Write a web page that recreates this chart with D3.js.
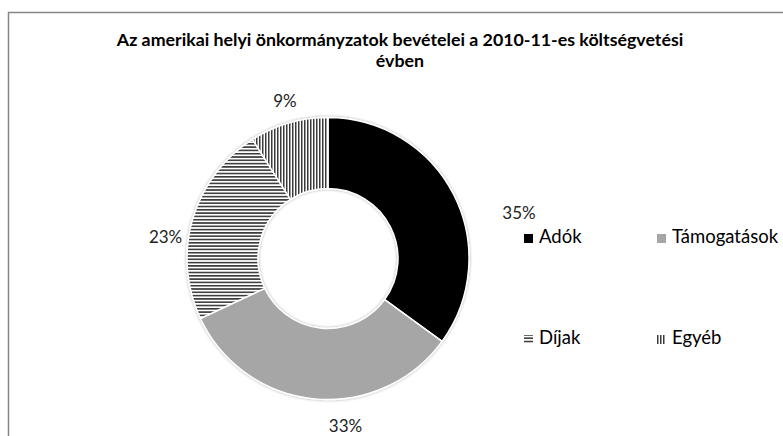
<!DOCTYPE html>
<html>
<head>
<meta charset="utf-8">
<script src="https://cdn.jsdelivr.net/npm/d3@7"></script>
<style>
  body { margin: 0; background: #fff; }
  svg { display: block; }
</style>
</head>
<body>
<script>
const w = 783;
const h = 436;

const titleLines = ["Az amerikai helyi önkormányzatok  bevételei a 2010-11-es költségvetési", "évben"];
const categories = ["Adók", "Támogatások", "Díjak", "Egyéb"];
const values = [35, 33, 23, 9];
const fills = ["#000", "#a6a6a6", "url(#hatchH)", "url(#hatchV)"];

const cx = 328, cy = 258.5;
const outerR = 141, innerR = 70;
const font = "Lato, 'Open Sans', sans-serif";

const svg = d3.select("body").append("svg").attr("width", w).attr("height", h);
const defs = svg.append("defs");

// stripe fills for Díjak and Egyéb
const hH = defs.append("pattern").attr("id", "hatchH")
  .attr("patternUnits", "userSpaceOnUse").attr("width", 6).attr("height", 3.3);
hH.append("rect").attr("width", 6).attr("height", 3.3).attr("fill", "#fff");
hH.append("rect").attr("width", 6).attr("height", 1.6).attr("fill", "#3a3a3a");

const hV = defs.append("pattern").attr("id", "hatchV")
  .attr("patternUnits", "userSpaceOnUse").attr("width", 3).attr("height", 6);
hV.append("rect").attr("width", 3).attr("height", 6).attr("fill", "#fff");
hV.append("rect").attr("width", 1.5).attr("height", 6).attr("fill", "#3a3a3a");

const shadow = defs.append("filter").attr("id", "shadow")
  .attr("x", "-10%").attr("y", "-10%").attr("width", "120%").attr("height", "120%");
shadow.append("feDropShadow").attr("dx", 0).attr("dy", 0).attr("stdDeviation", 1.5)
  .attr("flood-color", "#000").attr("flood-opacity", 0.35);

// chart frame
svg.append("rect")
  .attr("x", 8.5).attr("y", 12.5)
  .attr("width", 790).attr("height", 440)
  .attr("fill", "none").attr("stroke", "#868686").attr("stroke-width", 1.5);

// title
svg.append("g").selectAll("text").data(titleLines).enter().append("text")
  .attr("x", 400)
  .attr("y", (d, i) => 46 + i * 21)
  .attr("text-anchor", "middle")
  .attr("font-family", font)
  .attr("font-weight", "bold")
  .attr("font-size", 17.8)
  .attr("fill", "#000")
  .text(d => d);

const pie = d3.pie().sort(null).value(d => d);
const arcs = pie(values);
const arc = d3.arc().innerRadius(innerR).outerRadius(outerR);
const labelArc = d3.arc().innerRadius(165).outerRadius(165);

const g = svg.append("g").attr("transform", `translate(${cx},${cy})`);
g.append("g").attr("filter", "url(#shadow)")
  .selectAll("path").data(arcs).enter().append("path")
  .attr("d", arc)
  .attr("fill", (d, i) => fills[i])
  .attr("stroke", "#fff")
  .attr("stroke-width", 1.5);

// data labels, nudged the way they were placed in the original
const labelShift = [[44, 30], [33, 4], [-4, 26], [3, 2]];
g.selectAll("text.lbl").data(arcs).enter().append("text")
  .attr("class", "lbl")
  .attr("x", (d, i) => labelArc.centroid(d)[0] + labelShift[i][0])
  .attr("y", (d, i) => labelArc.centroid(d)[1] + labelShift[i][1] + 5)
  .attr("text-anchor", "middle")
  .attr("font-family", font)
  .attr("font-size", 17)
  .attr("fill", "#222")
  .text(d => d.data + "%");

// legend, 2 x 2
const legend = svg.append("g").selectAll("g").data(categories).enter().append("g")
  .attr("transform", (d, i) => `translate(${524 + (i % 2) * 133},${243 + Math.floor(i / 2) * 101})`);
legend.append("rect")
  .attr("x", 0).attr("y", -9)
  .attr("width", 9).attr("height", 9)
  .attr("fill", (d, i) => fills[i]);
legend.append("text")
  .attr("x", 15).attr("y", 0)
  .attr("font-family", font)
  .attr("font-size", 18.5)
  .attr("fill", "#000")
  .text(d => d);
</script>
</body>
</html>
